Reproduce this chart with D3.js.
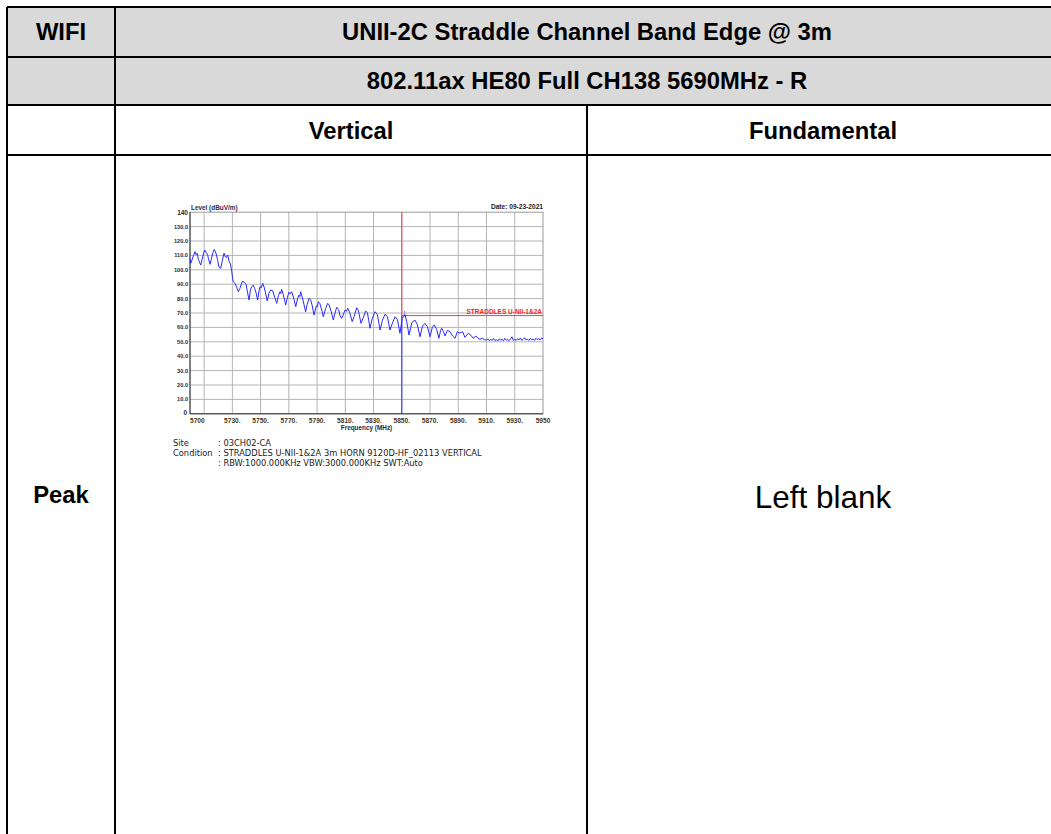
<!DOCTYPE html>
<html>
<head>
<meta charset="utf-8">
<script src="https://cdn.jsdelivr.net/npm/d3@7"></script>
<style>
  html, body { margin: 0; padding: 0; background: #fff; }
  svg { display: block; }
</style>
</head>
<body>
<svg id="page" width="1051" height="834"></svg>
<script>
// ---------- DATA ----------
const headerTitle = "UNII-2C Straddle Channel Band Edge @ 3m";
const headerMode = "802.11ax HE80 Full CH138 5690MHz - R";
const colHeaders = ["Vertical", "Fundamental"];
const rowLabel = "Peak";
const blankText = "Left blank";

const yTickValues = [0, 10, 20, 30, 40, 50, 60, 70, 80, 90, 100, 110, 120, 130, 140];
const yTickLabels = ["0", "10.0", "20.0", "30.0", "40.0", "50.0", "60.0", "70.0", "80.0", "90.0", "100.0", "110.0", "120.0", "130.0", "140"];
const xGridValues = [5710, 5730, 5750, 5770, 5790, 5810, 5830, 5850, 5870, 5890, 5910, 5930];
const xTickValues = [5700, 5730, 5750, 5770, 5790, 5810, 5830, 5850, 5870, 5890, 5910, 5930, 5950];
const xTickLabels = ["5700", "5730.", "5750.", "5770.", "5790.", "5810.", "5830.", "5850.", "5870.", "5890.", "5910.", "5930.", "5950"];

const limitLevel = 68.2;
const markerFreq = 5850;
const limitLabel = "STRADDLES U-NII-1&2A";

// measured trace [frequency MHz, level dBuV/m]
const tracePoints = [
  [5700,108],[5700.5,104.5],[5701.5,107],[5702.5,110],[5703.5,112.6],[5704.3,110.5],[5705,111.5],[5706,107],
  [5707.6,103.3],[5708.5,107],[5709.5,111],[5710.5,113.7],[5711.5,112],[5712.5,110.5],[5713.2,107],[5714.2,103.8],
  [5715.2,108],[5716.3,112],[5717.2,114.2],[5718.4,111.5],[5719.5,107],[5720.5,102],[5721.7,101],[5722.8,106],
  [5724.1,111.5],[5725,109],[5725.8,108.5],[5726.7,110.3],[5727.8,105.6],[5728.6,104],[5729.4,100],[5730.2,94],
  [5730.7,91.7],[5731.9,90.6],[5733,88],[5734.2,84.8],[5735.3,87],[5736.3,90],[5737.3,92.2],[5738.5,91],
  [5739.7,90],[5740.8,84],[5741.8,79],[5742.8,86],[5743.7,88.3],[5744.8,89.4],[5745.8,87],[5746.8,84],
  [5747.9,79],[5749,86],[5749.6,88.3],[5750.5,87.5],[5751.5,90.6],[5752.5,88],[5753.5,84],[5754.7,78.3],[5756,84],
  [5757.2,86],[5758.5,85.5],[5760,81],[5761.4,76.7],[5762.6,82],[5763.7,84.8],[5764.3,83.6],[5764.9,86.5],[5766,83],
  [5767.8,75.6],[5769,81],[5770.1,84.4],[5771,83.2],[5772,84.8],[5773.5,80],[5774.9,74.4],[5776.2,80],[5777.2,82.5],
  [5777.8,81.4],[5778.4,84.8],[5780,79],[5781.9,70.9],[5783,76],[5784.3,80.2],[5785.5,79],[5786.6,75],[5787.8,68.6],
  [5789.5,75],[5790.2,74.2],[5790.9,77.9],[5792,76.5],[5793.3,72],[5794.4,67.4],[5796,73],[5797.5,76.7],[5798.6,75.5],
  [5800,71],[5801.5,65.1],[5802.7,70],[5803.9,74],[5805.2,72.5],[5806.3,68],[5807.4,66.3],[5808.2,68],
  [5809.8,72.1],[5810.8,71.2],[5811.7,73.3],[5813,70.5],[5814.9,64],[5816.2,67.5],[5818.1,73.7],[5819.2,72],[5821.1,62.8],
  [5822.8,67],[5824.4,71.4],[5825.7,70],[5827.5,59.4],[5829,66],[5831,70.9],[5832.7,69],[5834.6,58.2],
  [5836.3,65],[5838.1,69.1],[5839.8,67.5],[5841.6,58.2],[5843.4,63],[5845.2,67.4],[5846.9,65.5],[5848.7,55.9],
  [5850.3,66.3],[5852.3,68.6],[5853.5,64],[5855.1,54.7],[5857.2,63.5],[5859.3,65.1],[5861,62],[5862.9,53.5],
  [5864.7,61],[5866.4,62.8],[5868.2,60.5],[5870,53.5],[5871.6,60],[5873,61.7],[5874.7,58.5],[5876.3,52.4],
  [5877.5,58],[5878.3,59.4],[5879.5,57],[5880.6,54],[5882.3,58],[5884.1,57],[5886,54],[5887.7,52.4],
  [5889.3,57],[5891,56],[5893.1,57],[5894.7,53.1],[5897.1,55.9],[5899,54.5],[5900.6,52.4],[5902.5,54],
  [5904,52.5],[5905.4,51.7],[5907,52.5],[5908.5,51.5],[5910.1,51.2],[5911,52],[5912,50.8],[5913,51.6],
  [5914,51],[5915,52.3],[5916,50.9],[5917,51.5],[5918,50.6],[5919,52],[5920,51.2],[5921,51.8],
  [5922,50.7],[5923,52.4],[5924,51.1],[5925,51.6],[5926,50.8],[5927,52],[5928,53.5],[5929,51],
  [5930,51.8],[5931,50.9],[5932,52.2],[5933,51.3],[5934,52.6],[5935,51],[5936,51.7],[5937,52.8],
  [5938,51.2],[5939,51.9],[5940,50.9],[5941,52.3],[5942,51.4],[5943,52],[5944,51],[5945,52.5],
  [5946,51.5],[5947,52.4],[5948,51.2],[5949,52.7],[5950,52]
];

const siteLines = [
  ["Site", ": 03CH02-CA"],
  ["Condition", ": STRADDLES U-NII-1&2A 3m HORN 9120D-HF_02113 VERTICAL"],
  ["", ": RBW:1000.000KHz VBW:3000.000KHz SWT:Auto"]
];

// ---------- TABLE ----------
const svg = d3.select("#page");
const T = { left: 7, right: 1059, c1: 115, c2: 587, r0: 7, r1: 57, r2: 105, r3: 155, bottom: 840 };
const headFont = "'Liberation Sans', Arial, sans-serif";

svg.append("rect").attr("x", T.left).attr("y", T.r0).attr("width", T.right - T.left).attr("height", T.r2 - T.r0)
  .attr("fill", "#d9d9d9");

const tlines = [
  [T.left, T.r0, T.right, T.r0], [T.left, T.r1, T.right, T.r1], [T.left, T.r2, T.right, T.r2], [T.left, T.r3, T.right, T.r3],
  [T.left, T.r0, T.left, T.bottom], [T.c1, T.r0, T.c1, T.bottom], [T.c2, T.r2, T.c2, T.bottom], [T.right, T.r0, T.right, T.bottom]
];
svg.append("g").selectAll("line").data(tlines).join("line")
  .attr("x1", d => d[0]).attr("y1", d => d[1]).attr("x2", d => d[2]).attr("y2", d => d[3])
  .attr("stroke", "#000").attr("stroke-width", 2);

function cellText(txt, cx, cy, size, weight) {
  svg.append("text").attr("x", cx).attr("y", cy).attr("text-anchor", "middle")
    .attr("font-family", headFont).attr("font-size", size).attr("font-weight", weight)
    .attr("fill", "#000").text(txt);
}
cellText("WIFI", (T.left + T.c1) / 2, 40, 23.8, "bold");
cellText(headerTitle, (T.c1 + T.right) / 2, 40, 23.8, "bold");
cellText(headerMode, (T.c1 + T.right) / 2, 89, 23.8, "bold");
cellText(colHeaders[0], (T.c1 + T.c2) / 2, 138.5, 23.8, "bold");
cellText(colHeaders[1], (T.c2 + T.right) / 2, 138.5, 23.8, "bold");
cellText(rowLabel, (T.left + T.c1) / 2, 503, 23.8, "bold");
cellText(blankText, (T.c2 + T.right) / 2, 508, 31.5, "normal");

// ---------- CHART ----------
const P = { left: 190, right: 543, top: 212.2, bottom: 413.8 };
const x = d3.scaleLinear().domain([5700, 5950]).range([P.left, P.right]);
const y = d3.scaleLinear().domain([0, 140]).range([P.bottom, P.top]);
const chartFont = "'Liberation Sans', Arial, sans-serif";
const g = svg.append("g");

// grid
g.append("g").selectAll("line").data(yTickValues.filter(v => v > 0 && v < 140)).join("line")
  .attr("x1", P.left).attr("x2", P.right).attr("y1", d => y(d)).attr("y2", d => y(d))
  .attr("stroke", "#b4b4b4").attr("stroke-width", 1);
g.append("g").selectAll("line").data(xGridValues).join("line")
  .attr("x1", d => x(d)).attr("x2", d => x(d)).attr("y1", P.top).attr("y2", P.bottom)
  .attr("stroke", "#b4b4b4").attr("stroke-width", 1);
g.append("rect").attr("x", P.left).attr("y", P.top).attr("width", P.right - P.left).attr("height", P.bottom - P.top)
  .attr("fill", "none").attr("stroke", "#9a9a9a").attr("stroke-width", 1);

// axes (dark left & bottom)
g.append("line").attr("x1", P.left).attr("x2", P.left).attr("y1", P.top).attr("y2", P.bottom).attr("stroke", "#333").attr("stroke-width", 1);
g.append("line").attr("x1", P.left).attr("x2", P.right).attr("y1", P.bottom).attr("y2", P.bottom).attr("stroke", "#333").attr("stroke-width", 1);

// y labels
g.append("g").selectAll("text").data(yTickValues).join("text")
  .attr("x", d => d === 0 ? P.left - 3 : P.left - 2)
  .attr("y", d => d === 0 ? y(d) + 1 : d === 140 ? y(d) + 2.5 : y(d) + 2)
  .attr("text-anchor", "end").attr("font-family", chartFont).attr("font-weight", "bold")
  .attr("font-size", d => (d === 0 || d === 140) ? 6.5 : 5.6).attr("fill", "#1e2a44")
  .text((d, i) => yTickLabels[i]);

// x labels
g.append("g").selectAll("text").data(xTickValues).join("text")
  .attr("x", d => x(d))
  .attr("y", P.bottom + 9)
  .attr("text-anchor", (d, i) => i === 0 ? "start" : "middle")
  .attr("font-family", chartFont).attr("font-weight", "bold").attr("font-size", 6.6).attr("fill", "#4a3320")
  .text((d, i) => xTickLabels[i]);

g.append("text").attr("x", (P.left + P.right) / 2).attr("y", P.bottom + 16).attr("text-anchor", "middle")
  .attr("font-family", chartFont).attr("font-weight", "bold").attr("font-size", 6.4).attr("fill", "#1e2a44")
  .text("Frequency (MHz)");
g.append("text").attr("x", P.left + 1).attr("y", P.top - 2).attr("font-family", chartFont).attr("font-weight", "bold")
  .attr("font-size", 6.4).attr("fill", "#1e2a60").text("Level (dBuV/m)");
g.append("text").attr("x", P.right).attr("y", P.top - 3).attr("text-anchor", "end").attr("font-family", chartFont)
  .attr("font-weight", "bold").attr("font-size", 6.6).attr("fill", "#222").text("Date: 09-23-2021");

// limit & marker lines
g.append("line").attr("x1", x(markerFreq)).attr("x2", P.right).attr("y1", y(limitLevel)).attr("y2", y(limitLevel))
  .attr("stroke", "#ff3b3b").attr("stroke-width", 1);
g.append("line").attr("x1", x(markerFreq)).attr("x2", x(markerFreq)).attr("y1", P.top).attr("y2", y(limitLevel))
  .attr("stroke", "#ff3b3b").attr("stroke-width", 1);
g.append("line").attr("x1", x(markerFreq)).attr("x2", x(markerFreq)).attr("y1", y(limitLevel)).attr("y2", P.bottom)
  .attr("stroke", "#2a2aff").attr("stroke-width", 1);
g.append("text").attr("x", P.right - 1).attr("y", y(limitLevel) - 2).attr("text-anchor", "end").attr("font-family", chartFont)
  .attr("font-weight", "bold").attr("font-size", 6.5).attr("fill", "#ff2020").text(limitLabel);
g.append("text").attr("x", x(markerFreq) + 1.5).attr("y", y(limitLevel) - 0.5).attr("font-family", chartFont)
  .attr("font-size", 4.5).attr("fill", "#2a2aff").text("1");

// trace
const line = d3.line().x(d => x(d[0])).y(d => y(d[1]));
g.append("path").datum(tracePoints).attr("d", line).attr("fill", "none")
  .attr("stroke", "#2a2aff").attr("stroke-width", 1).attr("stroke-linejoin", "round");

// site / condition text
const siteFont = "'DejaVu Sans', Verdana, sans-serif";
const sg = svg.append("g").attr("font-family", siteFont).attr("font-size", 8.3).attr("fill", "#222");
siteLines.forEach((row, i) => {
  const yy = 445.5 + i * 10;
  sg.append("text").attr("x", 173).attr("y", yy).text(row[0]);
  sg.append("text").attr("x", 218).attr("y", yy).text(row[1]);
});
</script>
</body>
</html>
